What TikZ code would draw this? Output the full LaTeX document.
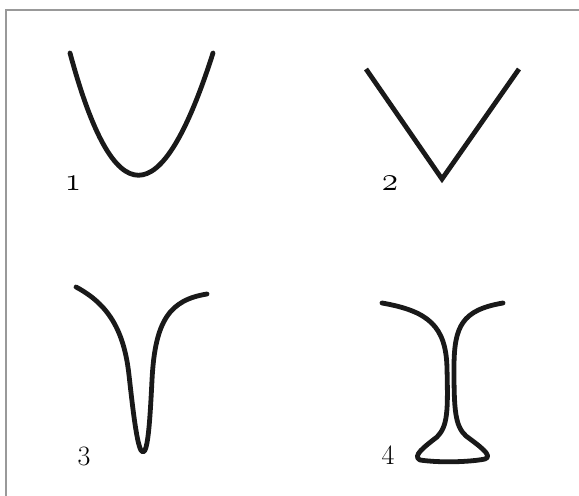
\documentclass[tikz,border=0pt]{standalone}
\begin{document}
\begin{tikzpicture}[x=0.75pt,y=-0.75pt,
  curve/.style={line width=3.6pt,color=black!90,line cap=round,line join=round},
  frameline/.style={line width=1.3pt,color=black!40},
  oldlab/.style={font=\fontsize{32}{34}\usefont{OML}{cmm}{m}{it},inner sep=0pt},
  linlab/.style={font=\fontsize{21}{23}\selectfont,inner sep=0pt}]
\useasboundingbox (0,0) rectangle (579,496);
\fill[white] (0,0) rectangle (579,496);
% frame
\draw[frameline] (6,500) -- (6,10) -- (585,10);
% curve 1
\draw[curve] (70,53) .. controls (114,216) and (161,216) .. (213,53);
% curve 2
\draw[curve,line cap=butt,line join=miter] (366,69) -- (442,179) -- (519,69);
% curve 3
\draw[curve] (76,287) .. controls (108,304) and (124,330) .. (129,375)
  .. controls (134,420) and (138,452) .. (143,452)
  .. controls (148,452) and (150,420) .. (152,380)
  .. controls (155,320) and (170,300) .. (207,294);
% curve 4
\draw[curve] (382,303) .. controls (428,311) and (446,326) .. (447,368)
  .. controls (448,410) and (448,426) .. (437,437)
  .. controls (424,447) and (412,456) .. (420,460)
  .. controls (440,463) and (470,462) .. (485,459)
  .. controls (494,456) and (478,445) .. (466,436)
  .. controls (455,426) and (454,410) .. (454,368)
  .. controls (454,326) and (462,310) .. (503,303);
% labels
\node[oldlab] (l1) at (73,183) {1};
\node[oldlab] (l2) at (390,183) {2};
\node[linlab] (l3) at (84,456) {3};
\node[linlab] (l4) at (388,455) {4};
\end{tikzpicture}
\end{document}
